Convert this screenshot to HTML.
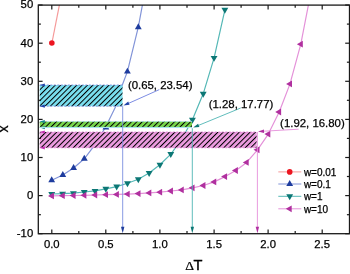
<!DOCTYPE html>
<html><head><meta charset="utf-8"><style>
html,body{margin:0;padding:0;background:#fff;width:350px;height:274px;overflow:hidden;font-family:"Liberation Sans",sans-serif;}
svg{display:block;filter:blur(0.3px);}
</style></head><body>
<svg width="350" height="274" viewBox="0 0 350 274"><defs>
<clipPath id="plot"><rect x="38.3" y="5.1" width="311.2" height="228.6"/></clipPath>
<pattern id="hatch" width="3.8" height="10" patternUnits="userSpaceOnUse" patternTransform="rotate(45)">
<rect x="0" y="0" width="1.0" height="10" fill="#000"/>
</pattern>
</defs>
<g clip-path="url(#plot)">
<polyline fill="none" stroke="#f59a9a" stroke-width="1.20" stroke-linejoin="round" points="51.9,43.0 59.6,4.0"/>
<polyline fill="none" stroke="#8294d8" stroke-width="1.20" stroke-linejoin="round" points="51.7,180.2 62.8,175.0 73.6,168.0 84.3,158.8 95.0,144.6 105.9,126.5 115.7,106.4 116.7,101.8 122.4,84.7 127.4,71.6 138.3,27.2 142.6,4.0"/>
<polyline fill="none" stroke="#55b8b6" stroke-width="1.20" stroke-linejoin="round" points="51.8,194.0 62.6,193.7 73.4,193.2 84.2,192.0 95.0,190.9 105.8,188.8 116.7,186.6 127.5,183.3 138.3,179.2 149.1,173.0 159.9,164.8 170.8,154.1 181.6,139.5 192.4,119.8 203.2,93.8 214.1,57.9 224.9,9.8"/>
<polyline fill="none" stroke="#e492d9" stroke-width="1.20" stroke-linejoin="round" points="52.0,195.9 62.8,195.7 73.6,195.5 84.4,195.3 95.2,195.0 106.0,194.7 116.9,194.4 127.7,194.1 138.5,193.6 149.3,192.9 160.1,192.2 171.0,191.0 181.8,189.9 192.6,187.8 203.4,185.5 214.2,181.9 225.1,176.6 235.9,170.5 246.7,162.4 257.5,149.8 268.3,134.1 279.2,112.0 290.0,83.9 300.8,44.2 308.6,4.0"/>
<circle cx="51.85" cy="43.00" r="2.80" fill="#ec1520"/>
<polygon fill="#1e3c9e" points="51.70,176.25 48.28,182.17 55.12,182.17"/>
<polygon fill="#1e3c9e" points="62.80,171.05 59.38,176.97 66.22,176.97"/>
<polygon fill="#1e3c9e" points="73.60,164.05 70.18,169.97 77.02,169.97"/>
<polygon fill="#1e3c9e" points="84.30,154.85 80.88,160.78 87.72,160.78"/>
<polygon fill="#1e3c9e" points="95.00,140.65 91.58,146.57 98.42,146.57"/>
<polygon fill="#1e3c9e" points="105.90,123.45 102.48,129.38 109.32,129.38"/>
<polygon fill="#1e3c9e" points="116.70,97.85 113.28,103.77 120.12,103.77"/>
<polygon fill="#1e3c9e" points="127.40,67.65 123.98,73.57 130.82,73.57"/>
<polygon fill="#1e3c9e" points="138.30,23.25 134.88,29.18 141.72,29.18"/>
<polygon fill="#0c7775" points="51.75,197.95 48.33,192.03 55.17,192.03"/>
<polygon fill="#0c7775" points="62.57,197.65 59.15,191.72 65.99,191.72"/>
<polygon fill="#0c7775" points="73.39,197.15 69.97,191.22 76.81,191.22"/>
<polygon fill="#0c7775" points="84.21,195.95 80.79,190.03 87.63,190.03"/>
<polygon fill="#0c7775" points="95.03,194.85 91.61,188.93 98.45,188.93"/>
<polygon fill="#0c7775" points="105.85,192.75 102.43,186.83 109.27,186.83"/>
<polygon fill="#0c7775" points="116.67,190.55 113.25,184.62 120.09,184.62"/>
<polygon fill="#0c7775" points="127.49,187.25 124.07,181.33 130.91,181.33"/>
<polygon fill="#0c7775" points="138.31,183.15 134.89,177.22 141.73,177.22"/>
<polygon fill="#0c7775" points="149.13,176.95 145.71,171.03 152.55,171.03"/>
<polygon fill="#0c7775" points="159.95,168.75 156.53,162.83 163.37,162.83"/>
<polygon fill="#0c7775" points="170.77,158.05 167.35,152.12 174.19,152.12"/>
<polygon fill="#0c7775" points="181.59,143.45 178.17,137.53 185.01,137.53"/>
<polygon fill="#0c7775" points="192.41,123.75 188.99,117.83 195.83,117.83"/>
<polygon fill="#0c7775" points="203.23,97.75 199.81,91.83 206.65,91.83"/>
<polygon fill="#0c7775" points="214.05,61.85 210.63,55.92 217.47,55.92"/>
<polygon fill="#0c7775" points="224.87,13.75 221.45,7.83 228.29,7.83"/>
<polygon fill="#b0309f" points="48.00,195.90 53.93,192.48 53.93,199.32"/>
<polygon fill="#b0309f" points="58.82,195.70 64.75,192.28 64.75,199.12"/>
<polygon fill="#b0309f" points="69.64,195.50 75.56,192.08 75.56,198.92"/>
<polygon fill="#b0309f" points="80.46,195.30 86.39,191.88 86.39,198.72"/>
<polygon fill="#b0309f" points="91.28,195.00 97.20,191.58 97.20,198.42"/>
<polygon fill="#b0309f" points="102.10,194.70 108.02,191.28 108.02,198.12"/>
<polygon fill="#b0309f" points="112.92,194.40 118.85,190.98 118.85,197.82"/>
<polygon fill="#b0309f" points="123.74,194.10 129.67,190.68 129.67,197.52"/>
<polygon fill="#b0309f" points="134.56,193.60 140.48,190.18 140.48,197.02"/>
<polygon fill="#b0309f" points="145.38,192.90 151.30,189.48 151.30,196.32"/>
<polygon fill="#b0309f" points="156.20,192.20 162.12,188.78 162.12,195.62"/>
<polygon fill="#b0309f" points="167.02,191.00 172.94,187.58 172.94,194.42"/>
<polygon fill="#b0309f" points="177.84,189.90 183.77,186.48 183.77,193.32"/>
<polygon fill="#b0309f" points="188.66,187.80 194.58,184.38 194.58,191.22"/>
<polygon fill="#b0309f" points="199.48,185.50 205.41,182.08 205.41,188.92"/>
<polygon fill="#b0309f" points="210.30,181.90 216.22,178.48 216.22,185.32"/>
<polygon fill="#b0309f" points="221.12,176.60 227.04,173.18 227.04,180.02"/>
<polygon fill="#b0309f" points="231.94,170.50 237.87,167.08 237.87,173.92"/>
<polygon fill="#b0309f" points="242.76,162.40 248.69,158.98 248.69,165.82"/>
<polygon fill="#b0309f" points="253.58,149.80 259.51,146.38 259.51,153.22"/>
<polygon fill="#b0309f" points="264.40,134.10 270.32,130.68 270.32,137.52"/>
<polygon fill="#b0309f" points="275.22,112.00 281.15,108.58 281.15,115.42"/>
<polygon fill="#b0309f" points="286.04,83.90 291.97,80.48 291.97,87.32"/>
<polygon fill="#b0309f" points="296.86,44.20 302.79,40.78 302.79,47.62"/>
</g>
<rect x="39.8" y="85.0" width="82.7" height="21.2" fill="#7ae0f0"/><rect x="39.8" y="85.0" width="82.7" height="21.2" fill="url(#hatch)"/><line x1="39.8" y1="85.0" x2="122.5" y2="85.0" stroke="#8090e0" stroke-width="0.9" stroke-dasharray="2,1.5"/><polygon fill="#2244aa" points="39.8,85.0 44.8,83.4 44.8,86.6"/><line x1="39.8" y1="106.2" x2="122.5" y2="106.2" stroke="#8090e0" stroke-width="0.9" stroke-dasharray="2,1.5"/><polygon fill="#2244aa" points="39.8,106.2 44.8,104.6 44.8,107.8"/>
<rect x="39.8" y="121.6" width="152.2" height="6.0" fill="#78d64c"/><rect x="39.8" y="121.6" width="152.2" height="6.0" fill="url(#hatch)"/><line x1="39.8" y1="121.6" x2="192.0" y2="121.6" stroke="#a0dcf0" stroke-width="0.9" stroke-dasharray="2,1.5"/><polygon fill="#178a8a" points="39.8,121.6 44.8,120.0 44.8,123.2"/><line x1="39.8" y1="127.6" x2="192.0" y2="127.6" stroke="#a0dcf0" stroke-width="0.9" stroke-dasharray="2,1.5"/><polygon fill="#178a8a" points="39.8,127.6 44.8,126.0 44.8,129.2"/>
<rect x="39.8" y="126.9" width="152.2" height="1.1" fill="#a8e4ee"/>
<rect x="39.8" y="132.0" width="216.8" height="15.8" fill="#ec9ce0"/><rect x="39.8" y="132.0" width="216.8" height="15.8" fill="url(#hatch)"/><line x1="39.8" y1="132.0" x2="256.6" y2="132.0" stroke="#e28ad6" stroke-width="0.9" stroke-dasharray="2,1.5"/><polygon fill="#c030b0" points="39.8,132.0 44.8,130.4 44.8,133.6"/><line x1="39.8" y1="147.8" x2="256.6" y2="147.8" stroke="#e28ad6" stroke-width="0.9" stroke-dasharray="2,1.5"/><polygon fill="#c030b0" points="39.8,147.8 44.8,146.2 44.8,149.4"/>
<line x1="122.7" y1="106.2" x2="122.7" y2="228.7" stroke="#7b8fe0" stroke-width="0.9"/><polygon fill="#1f3d9c" points="122.7,233.2 121.0,226.7 124.4,226.7"/>
<line x1="192.3" y1="128.2" x2="192.3" y2="228.7" stroke="#4fb6b4" stroke-width="0.9"/><polygon fill="#0b7674" points="192.3,233.2 190.6,226.7 194.0,226.7"/>
<line x1="257.4" y1="132.0" x2="257.4" y2="228.7" stroke="#e590da" stroke-width="0.9"/><polygon fill="#b02ea0" points="257.4,233.2 255.7,226.7 259.1,226.7"/>
<line x1="159.3" y1="89.6" x2="128.9" y2="103.2" stroke="#6d7fe0" stroke-width="0.9"/><polygon fill="#2244aa" points="123.4,105.6 128.2,101.6 129.6,104.7"/>
<line x1="240.7" y1="108.0" x2="198.7" y2="125.3" stroke="#4fb6b4" stroke-width="0.9"/><polygon fill="#0b7674" points="193.2,127.6 198.1,123.7 199.4,126.9"/>
<line x1="298.6" y1="129.2" x2="264.0" y2="131.2" stroke="#e590da" stroke-width="0.9"/><polygon fill="#b02ea0" points="258.0,131.6 263.9,129.5 264.1,132.9"/>
<rect x="38.3" y="5.1" width="311.2" height="228.6" fill="none" stroke="#1a1a1a" stroke-width="1.3"/>
<g stroke="#1a1a1a" stroke-width="1.2"><line x1="51.8" y1="233.7" x2="51.8" y2="229.4"/><line x1="51.8" y1="5.1" x2="51.8" y2="9.4"/><line x1="105.8" y1="233.7" x2="105.8" y2="229.4"/><line x1="105.8" y1="5.1" x2="105.8" y2="9.4"/><line x1="159.9" y1="233.7" x2="159.9" y2="229.4"/><line x1="159.9" y1="5.1" x2="159.9" y2="9.4"/><line x1="214.1" y1="233.7" x2="214.1" y2="229.4"/><line x1="214.1" y1="5.1" x2="214.1" y2="9.4"/><line x1="268.1" y1="233.7" x2="268.1" y2="229.4"/><line x1="268.1" y1="5.1" x2="268.1" y2="9.4"/><line x1="322.2" y1="233.7" x2="322.2" y2="229.4"/><line x1="322.2" y1="5.1" x2="322.2" y2="9.4"/><line x1="78.8" y1="233.7" x2="78.8" y2="231.1"/><line x1="78.8" y1="5.1" x2="78.8" y2="7.7"/><line x1="132.9" y1="233.7" x2="132.9" y2="231.1"/><line x1="132.9" y1="5.1" x2="132.9" y2="7.7"/><line x1="187.0" y1="233.7" x2="187.0" y2="231.1"/><line x1="187.0" y1="5.1" x2="187.0" y2="7.7"/><line x1="241.1" y1="233.7" x2="241.1" y2="231.1"/><line x1="241.1" y1="5.1" x2="241.1" y2="7.7"/><line x1="295.2" y1="233.7" x2="295.2" y2="231.1"/><line x1="295.2" y1="5.1" x2="295.2" y2="7.7"/><line x1="38.3" y1="233.7" x2="42.6" y2="233.7"/><line x1="349.6" y1="233.7" x2="345.2" y2="233.7"/><line x1="38.3" y1="214.7" x2="40.9" y2="214.7"/><line x1="349.6" y1="214.7" x2="346.9" y2="214.7"/><line x1="38.3" y1="195.6" x2="42.6" y2="195.6"/><line x1="349.6" y1="195.6" x2="345.2" y2="195.6"/><line x1="38.3" y1="176.5" x2="40.9" y2="176.5"/><line x1="349.6" y1="176.5" x2="346.9" y2="176.5"/><line x1="38.3" y1="157.5" x2="42.6" y2="157.5"/><line x1="349.6" y1="157.5" x2="345.2" y2="157.5"/><line x1="38.3" y1="138.4" x2="40.9" y2="138.4"/><line x1="349.6" y1="138.4" x2="346.9" y2="138.4"/><line x1="38.3" y1="119.4" x2="42.6" y2="119.4"/><line x1="349.6" y1="119.4" x2="345.2" y2="119.4"/><line x1="38.3" y1="100.3" x2="40.9" y2="100.3"/><line x1="349.6" y1="100.3" x2="346.9" y2="100.3"/><line x1="38.3" y1="81.3" x2="42.6" y2="81.3"/><line x1="349.6" y1="81.3" x2="345.2" y2="81.3"/><line x1="38.3" y1="62.2" x2="40.9" y2="62.2"/><line x1="349.6" y1="62.2" x2="346.9" y2="62.2"/><line x1="38.3" y1="43.2" x2="42.6" y2="43.2"/><line x1="349.6" y1="43.2" x2="345.2" y2="43.2"/><line x1="38.3" y1="24.1" x2="40.9" y2="24.1"/><line x1="349.6" y1="24.1" x2="346.9" y2="24.1"/><line x1="38.3" y1="5.0" x2="42.6" y2="5.0"/><line x1="349.6" y1="5.0" x2="345.2" y2="5.0"/></g>
<g font-family="Liberation Sans, sans-serif" font-size="11.3" fill="#000" stroke="#000" stroke-width="0.25">
<text x="33.2" y="237.0" text-anchor="end">-10</text>
<text x="33.2" y="198.9" text-anchor="end">0</text>
<text x="33.2" y="160.8" text-anchor="end">10</text>
<text x="33.2" y="122.7" text-anchor="end">20</text>
<text x="33.2" y="84.6" text-anchor="end">30</text>
<text x="33.2" y="46.5" text-anchor="end">40</text>
<text x="33.2" y="8.3" text-anchor="end">50</text>
<text x="51.8" y="248.2" text-anchor="middle">0.0</text>
<text x="105.8" y="248.2" text-anchor="middle">0.5</text>
<text x="159.9" y="248.2" text-anchor="middle">1.0</text>
<text x="214.1" y="248.2" text-anchor="middle">1.5</text>
<text x="268.1" y="248.2" text-anchor="middle">2.0</text>
<text x="322.2" y="248.2" text-anchor="middle">2.5</text>
</g>
<text transform="translate(185.3,269.6) scale(1.12,0.97)" font-family="Liberation Serif, serif" font-size="12.2" stroke="#000" stroke-width="0.25">&#916;</text>
<text x="193.4" y="269.6" font-family="Liberation Sans, sans-serif" font-size="14.6" stroke="#000" stroke-width="0.4">T</text>
<text transform="translate(7.9,129) rotate(-90)" font-family="Liberation Sans, sans-serif" font-size="14.4" text-anchor="middle" stroke="#000" stroke-width="0.25">x</text>
<g font-family="Liberation Sans, sans-serif" font-size="11.4" fill="#000" stroke="#000" stroke-width="0.25">
<text x="127.9" y="89.3">(0.65, 23.54)</text>
<text x="208.7" y="107.5">(1.28, 17.77)</text>
<text x="280.1" y="127.0">(1.92, 16.80)</text>
</g>
<line x1="278.3" y1="171.9" x2="301.3" y2="171.9" stroke="#f59a9a" stroke-width="1.0"/>
<circle cx="289.70" cy="171.90" r="2.80" fill="#ec1520"/>
<line x1="278.3" y1="184.0" x2="301.3" y2="184.0" stroke="#8294d8" stroke-width="1.0"/>
<polygon fill="#1e3c9e" points="289.70,180.05 286.28,185.97 293.12,185.97"/>
<line x1="278.3" y1="196.3" x2="301.3" y2="196.3" stroke="#55b8b6" stroke-width="1.0"/>
<polygon fill="#0c7775" points="289.70,200.25 286.28,194.33 293.12,194.33"/>
<line x1="278.3" y1="208.8" x2="301.3" y2="208.8" stroke="#e492d9" stroke-width="1.0"/>
<polygon fill="#b0309f" points="285.75,208.80 291.68,205.38 291.68,212.22"/>
<g font-family="Liberation Sans, sans-serif" font-size="10" fill="#000" stroke="#000" stroke-width="0.25">
<text x="303.9" y="175.9">w=0.01</text>
<text x="303.9" y="188.0">w=0.1</text>
<text x="303.9" y="200.3">w=1</text>
<text x="303.9" y="212.8">w=10</text>
</g></svg>
</body></html>
